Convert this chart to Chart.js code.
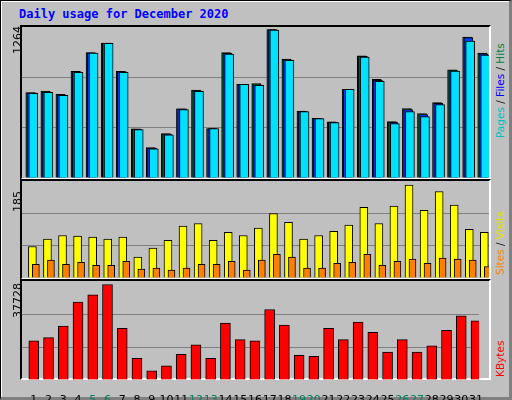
<!DOCTYPE html>
<html>
<head>
<meta charset="utf-8">
<script src="https://cdn.jsdelivr.net/npm/chart.js@4"></script>
<style>
  body { margin: 0; background: #fff; }
  #frame { position: absolute; left: 0; top: 0; width: 508px; height: 396px; background: #c0c0c0;
    border: 1px solid #000; border-right: 3px solid #808080; border-bottom: 3px solid #808080;
    box-shadow: inset 1px 1px 0 #fff; }
  .panel { position: absolute; left: 20px; width: 467px; border-top: 2px solid #000; border-left: 2px solid #000;
    border-right: 2px solid #fff; border-bottom: 2px solid #fff; }
  .panel canvas { position: absolute; left: 0; top: 0; }
  .txt { position: absolute; font-family: "DejaVu Sans Mono", monospace; white-space: nowrap; }
  .rot { transform-origin: 0 0; transform: rotate(-90deg); }
  .leg { font-family: "DejaVu Sans", sans-serif; font-size: 10.5px; }
  #title { left: 19px; top: 7px; color: #0000ff; font-weight: bold; font-size: 12px; }
</style>
</head>
<body>
<div id="frame"></div>
<div class="txt" id="title">Daily usage for December 2020</div>
<div class="panel" style="top:25px;height:151px"><canvas id="c1"></canvas></div>
<div class="panel" style="top:179px;height:97px"><canvas id="c2"></canvas></div>
<div class="panel" style="top:279px;height:97px"><canvas id="c3"></canvas></div>
<div class="txt rot" id="m1" style="left:11px;top:54px;font-size:11px;font-family:'DejaVu Sans'"></div>
<div class="txt rot" id="m2" style="left:11px;top:212px;font-size:11px;font-family:'DejaVu Sans'"></div>
<div class="txt rot" id="m3" style="left:11px;top:318px;font-size:11px;font-family:'DejaVu Sans'"></div>
<div class="txt rot leg" style="left:494px;top:138px"><span style="color:#00c0c0">Pages</span> / <span style="color:#0000ff">Files</span> / <span style="color:#008040">Hits</span></div>
<div class="txt rot leg" style="left:494px;top:275px"><span style="color:#ff8000">Sites</span> / <span style="color:#e0e000">Visits</span></div>
<div class="txt rot leg" style="left:494px;top:377px;color:#ff0000">KBytes</div>
<script>
const days = Array.from({length: 31}, (_, i) => String(i + 1))
const weekends = [5, 6, 12, 13, 19, 20, 26, 27]

const pages = [708, 717, 691, 885, 1045, 1127, 885, 405, 244, 362, 573, 725, 413, 1037, 784,
  776, 1239, 986, 556, 497, 464, 742, 1012, 809, 455, 556, 514, 615, 894, 1146, 1028]
const files = [712, 722, 696, 890, 1048, 1130, 890, 410, 250, 368, 578, 730, 413, 1043, 784,
  780, 1243, 990, 556, 497, 468, 742, 1018, 818, 465, 573, 530, 625, 900, 1175, 1040]
const hits = [716, 727, 700, 893, 1050, 1130, 893, 412, 255, 372, 580, 735, 413, 1050, 784,
  790, 1243, 995, 560, 500, 470, 742, 1022, 826, 472, 582, 540, 632, 905, 1180, 1045]
const visits = [60, 74, 81, 80, 78, 74, 78, 40, 57, 72, 99, 104, 72, 87, 81,
  95, 123, 106, 74, 81, 89, 101, 135, 104, 137, 177, 129, 165, 139, 93, 87]
const sites = [26, 34, 26, 30, 24, 24, 32, 17, 19, 15, 19, 26, 26, 32, 15,
  34, 45, 40, 19, 19, 28, 30, 45, 24, 32, 36, 28, 38, 36, 34, 22]
const kbytes = [14970, 16160, 20530, 29660, 32440, 36410, 19730, 8220, 3450, 5440, 9810, 13380, 8220, 21720, 15360,
  14970, 26880, 20920, 9410, 9010, 19730, 15360, 22110, 18140, 10600, 15360, 10600, 12980, 18940, 24500, 22510]
const maxHits = 1264, maxVisits = 185, maxKB = 37728

document.getElementById("m1").textContent = maxHits
document.getElementById("m2").textContent = maxVisits
document.getElementById("m3").textContent = maxKB

const xMin = 0.3, xMax = 31.3

function pts(values, off) {
  return values.map((v, i) => ({x: i + 1 + off, y: v}))
}

function barSet(values, off, color, w, order) {
  return { data: pts(values, off), backgroundColor: color, borderColor: "#000", borderWidth: 1,
    barThickness: w, grouped: false, order: order }
}

function panel(id, w, h, datasets, max, showDays) {
  const cv = document.getElementById(id)
  cv.width = w; cv.height = h
  const x = { type: "linear", min: xMin, max: xMax, offset: false, display: false }
  if (showDays) {
    Object.assign(x, {
      display: true, grid: { display: false }, border: { display: false },
      afterBuildTicks: s => { s.ticks = days.map((d, i) => ({ value: i + 1.1 })) },
      afterFit: s => { s.height = 22 },
      ticks: { autoSkip: false, maxRotation: 0, padding: 6,
        callback: v => String(Math.round(v)),
        color: c => weekends.includes(Math.round(c.tick.value)) ? "#008060" : "#000",
        font: { family: "DejaVu Sans", size: 11 } }
    })
  }
  return new Chart(cv, {
    type: "bar",
    data: { datasets },
    options: {
      responsive: false, animation: false,
      layout: { padding: 0 },
      plugins: { legend: { display: false }, tooltip: { enabled: false } },
      scales: {
        x: x,
        y: { min: 0, max: max, ticks: { display: false, stepSize: max / 3 },
          border: { display: false },
          grid: { drawTicks: false, color: c => (c.index == 1 || c.index == 2) ? "#808080" : "rgba(0,0,0,0)" } }
      }
    }
  })
}

panel("c1", 467, 151, [
  barSet(pages, 0.05, "#00e0ff", 9, 0),
  barSet(files, -0.07, "#0040ff", 9, 1),
  barSet(hits, -0.15, "#008040", 9, 2)
], maxHits)

panel("c2", 467, 97, [
  barSet(sites, 0.22, "#ff8000", 7, 0),
  barSet(visits, -0.01, "#ffff00", 8, 1)
], maxVisits)

// bottom panel carries the day labels below its plot area
panel("c3", 467, 97 + 24, [
  barSet(kbytes, 0.1, "#ff0000", 10, 0)
], maxKB, true)
</script>
</body>
</html>
